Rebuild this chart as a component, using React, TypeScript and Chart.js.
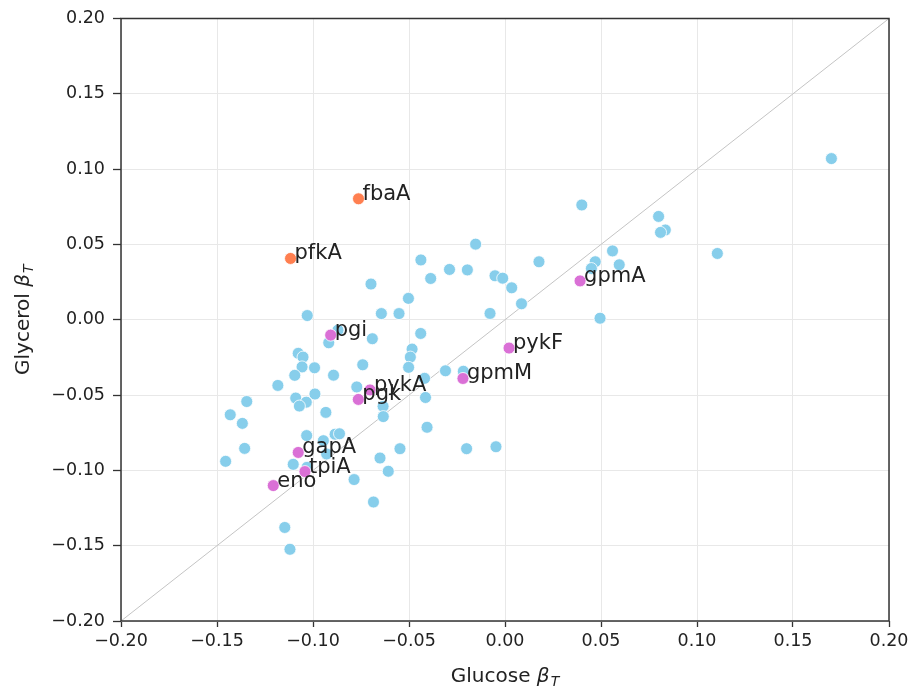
import React, { useEffect, useRef } from "react";
import { Chart, registerables } from "chart.js";

Chart.register(...registerables);

// Other genes (blue)
const glucoseOther = [
  0.170, 0.040, 0.080, 0.0835, 0.081, 0.056, 0.047, 0.0595, 0.045, 0.1106, 0.0495,
  -0.0153, -0.0438, -0.0289, -0.0196, -0.0387, -0.0052, -0.0012, 0.0035, 0.0177,
  -0.0503, -0.0552, 0.0086, -0.0078, -0.0698, -0.0644, -0.103, -0.087, -0.0918,
  -0.0691, -0.0439, -0.0484, -0.0493, -0.0502, -0.031, -0.0217, -0.0419, -0.0414,
  -0.1077, -0.1052, -0.1057, -0.0992, -0.0741, -0.1095, -0.0893, -0.1183, -0.0772,
  -0.109, -0.099, -0.1035, -0.1071, -0.1345, -0.0933, -0.1431, -0.1368, -0.0635,
  -0.0634, -0.0406, -0.1033, -0.0885, -0.0862, -0.0946, -0.1356, -0.0929, -0.1455,
  -0.1103, -0.1031, -0.0651, -0.0547, -0.0608, -0.0786, -0.0685, -0.020, -0.0047,
  -0.1147, -0.112,
];
const glycerolOther = [
  0.107, 0.0762, 0.0686, 0.0596, 0.058, 0.0457, 0.0385, 0.0365, 0.034, 0.044, 0.001,
  0.0502, 0.0397, 0.0334, 0.0331, 0.0274, 0.0292, 0.0276, 0.0212, 0.0385,
  0.0142, 0.0041, 0.0106, 0.0042, 0.0237, 0.0041, 0.0028, -0.0069, -0.0153,
  -0.0126, -0.0091, -0.0195, -0.0248, -0.0316, -0.0339, -0.0342, -0.0389, -0.0516,
  -0.0223, -0.0248, -0.0313, -0.0319, -0.0299, -0.0369, -0.0368, -0.0436, -0.0446,
  -0.052, -0.0493, -0.0547, -0.0573, -0.0543, -0.0615, -0.0631, -0.0688, -0.0575,
  -0.0643, -0.0714, -0.0769, -0.076, -0.0757, -0.0803, -0.0854, -0.0891, -0.094,
  -0.096, -0.098, -0.0918, -0.0856, -0.1006, -0.1061, -0.121, -0.0856, -0.0843,
  -0.1379, -0.1524,
];

// Glycolysis genes (magenta)
const glycolysisNames = ["pgi", "pykA", "pgk", "gapA", "tpiA", "eno", "gpmM", "pykF", "gpmA"];
const glycolysisGlucose = [-0.0908, -0.0703, -0.0764, -0.1077, -0.1042, -0.1207, -0.0219, 0.0021, 0.0391];
const glycolysisGlycerol = [-0.0102, -0.0466, -0.0529, -0.0881, -0.1008, -0.1101, -0.039, -0.0188, 0.0258];

// Upper glycolysis genes (orange)
const upperNames = ["fbaA", "pfkA"];
const upperGlucose = [-0.0763, -0.1117];
const upperGlycerol = [0.0803, 0.0407];

const axisMin = -0.2;
const axisMax = 0.2;

const FONT = "'DejaVu Sans', 'Liberation Sans', Arial, sans-serif";
const TEXT = "#222222";

const fmt = (v: number) => {
  const s = Number(v).toFixed(2);
  return s.startsWith("-") ? "\u2212" + s.slice(1) : s;
};

const toPts = (xs: number[], ys: number[]) => xs.map((x, i) => ({ x, y: ys[i] }));

const decorPlugin = {
  id: "decor",
  afterDatasetsDraw(chart: any) {
    const { ctx, chartArea } = chart;
    ctx.save();
    // frame
    ctx.strokeStyle = "#333333";
    ctx.lineWidth = 1.5;
    ctx.strokeRect(chartArea.left, chartArea.top, chartArea.right - chartArea.left, chartArea.bottom - chartArea.top);

    // point labels
    ctx.fillStyle = TEXT;
    ctx.font = `21px ${FONT}`;
    ctx.textBaseline = "alphabetic";
    ctx.textAlign = "left";
    const labelSets: Array<[number, string[]]> = [
      [1, glycolysisNames],
      [2, upperNames],
    ];
    labelSets.forEach(([di, names]) => {
      const meta = chart.getDatasetMeta(di);
      meta.data.forEach((el: any, i: number) => {
        ctx.fillText(names[i], el.x + 4, el.y + 1);
      });
    });

    // axis titles
    const drawTitle = (main: string, cx: number, cy: number) => {
      const f1 = `20px ${FONT}`;
      const f2 = `italic 20px ${FONT}`;
      const f3 = `italic 14px ${FONT}`;
      ctx.font = f1;
      const w1 = ctx.measureText(main + " ").width;
      ctx.font = f2;
      const w2 = ctx.measureText("\u03B2").width;
      ctx.font = f3;
      const w3 = ctx.measureText("T").width;
      const total = w1 + w2 + w3 + 1;
      let x = cx - total / 2;
      ctx.textAlign = "left";
      ctx.textBaseline = "alphabetic";
      const base = cy + 7;
      ctx.font = f1;
      ctx.fillText(main + " ", x, base);
      x += w1;
      ctx.font = f2;
      ctx.fillText("\u03B2", x, base);
      x += w2 + 1;
      ctx.font = f3;
      ctx.fillText("T", x, base + 4);
    };
    const midX = (chartArea.left + chartArea.right) / 2;
    const midY = (chartArea.top + chartArea.bottom) / 2;
    drawTitle("Glucose", midX, 675);
    ctx.save();
    ctx.translate(22, midY);
    ctx.rotate(-Math.PI / 2);
    drawTitle("Glycerol", 0, 0);
    ctx.restore();
    ctx.restore();
  },
};

export default function App() {
  const ref = useRef<HTMLCanvasElement | null>(null);
  useEffect(() => {
    if (!ref.current) return;
    const chart = new Chart(ref.current, {
      type: "scatter",
      data: {
        datasets: [
          {
            label: "other",
            data: toPts(glucoseOther, glycerolOther),
            backgroundColor: "#87CEEB",
            borderColor: "#ffffff",
            borderWidth: 0.8,
            pointRadius: 6,
            order: 3,
          },
          {
            label: "glycolysis",
            data: toPts(glycolysisGlucose, glycolysisGlycerol),
            backgroundColor: "#DA70D6",
            borderColor: "#ffffff",
            borderWidth: 0.8,
            pointRadius: 6,
            order: 2,
          },
          {
            label: "upper",
            data: toPts(upperGlucose, upperGlycerol),
            backgroundColor: "#FF7F50",
            borderColor: "#ffffff",
            borderWidth: 0.8,
            pointRadius: 6,
            order: 1,
          },
          {
            type: "line" as any,
            label: "identity",
            data: [
              { x: axisMin, y: axisMin },
              { x: axisMax, y: axisMax },
            ],
            borderColor: "#c4c4c4",
            borderWidth: 1,
            pointRadius: 0,
            showLine: true,
            fill: false,
            order: 10,
          } as any,
        ],
      },
      options: {
        animation: false,
        responsive: false,
        layout: { padding: { top: 16, right: 26, left: 0, bottom: 0 } },
        plugins: { legend: { display: false }, tooltip: { enabled: false } },
        scales: {
          x: {
            type: "linear",
            min: axisMin,
            max: axisMax,
            afterFit: (s: any) => {
              s.height = 73;
            },
            ticks: {
              stepSize: 0.05,
              callback: (v: any) => fmt(v),
              color: TEXT,
              font: { family: FONT, size: 17.5 },
              padding: 4,
              maxRotation: 0,
            },
            grid: {
              color: "#e8e8e8",
              lineWidth: 1,
              drawTicks: true,
              tickLength: 6,
              tickColor: "#333333",
              tickWidth: 1.3,
            },
            border: { display: false },
          },
          y: {
            type: "linear",
            min: axisMin,
            max: axisMax,
            afterFit: (s: any) => {
              s.width = 121;
            },
            ticks: {
              stepSize: 0.05,
              callback: (v: any) => fmt(v),
              color: TEXT,
              font: { family: FONT, size: 17.5 },
              padding: 8,
            },
            grid: {
              color: "#e8e8e8",
              lineWidth: 1,
              drawTicks: true,
              tickLength: 8,
              tickColor: "#333333",
              tickWidth: 1.3,
            },
            border: { display: false },
          },
        },
      },
      plugins: [decorPlugin],
    });
    return () => chart.destroy();
  }, []);
  return (
    <div style={{ position: "fixed", left: 0, top: 0, width: 915, height: 694, background: "#fff" }}>
      <canvas ref={ref} width={915} height={694} />
    </div>
  );
}
